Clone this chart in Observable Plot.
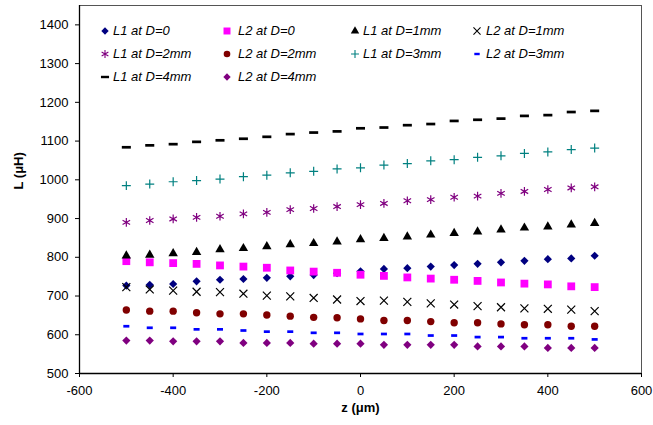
<!DOCTYPE html>
<html>
<head>
<meta charset="utf-8">
<script src="https://cdn.jsdelivr.net/npm/d3@7"></script>
<script src="https://cdn.jsdelivr.net/npm/@observablehq/plot@0.6"></script>
<style>
  html, body { margin: 0; padding: 0; background: #fff; }
  #wrap { position: relative; width: 653px; height: 425px; font-family: "Liberation Sans", Arial, sans-serif; }
  .leg { position: absolute; font-size: 13px; font-style: italic; color: #000; white-space: nowrap; line-height: 14px; }
  .legsym { position: absolute; }
</style>
</head>
<body>
<div id="wrap"></div>
<script>
// ---- data ----
const Z = [-500, -450, -400, -350, -300, -250, -200, -150, -100, -50, 0, 50, 100, 150, 200, 250, 300, 350, 400, 450, 500];
const L1_D0 = [727, 729, 731, 738, 742, 744, 747, 751, 754, 759, 764, 770, 772, 776, 780, 783, 787, 791, 795, 797, 804];
const L2_D0 = [790, 787, 785, 783, 779, 776, 773, 766, 763, 760, 755, 752, 748, 745, 742, 739, 735, 732, 730, 725, 723];
const L1_D1 = [804, 806, 810, 813, 820, 823, 828, 833, 836, 840, 846, 849, 853, 858, 862, 866, 871, 876, 879, 884, 888];
const L2_D1 = [723, 717, 714, 711, 710, 706, 701, 699, 695, 691, 687, 688, 685, 681, 678, 674, 671, 668, 667, 665, 661];
const L1_D2 = [890, 895, 899, 903, 906, 912, 916, 923, 926, 931, 936, 939, 946, 949, 955, 958, 965, 970, 975, 979, 982];
const L2_D2 = [664, 661, 661, 657, 654, 654, 651, 648, 645, 644, 641, 637, 637, 634, 631, 631, 628, 626, 626, 622, 622];
const L1_D3 = [985, 989, 995, 998, 1002, 1008, 1012, 1018, 1022, 1028, 1031, 1038, 1042, 1049, 1052, 1058, 1062, 1068, 1072, 1078, 1082];
const L2_D3 = [622, 618, 618, 614, 614, 611, 608, 608, 605, 605, 602, 602, 602, 598, 598, 594, 594, 591, 591, 591, 588];
const L1_D4 = [1084, 1089, 1092, 1098, 1102, 1106, 1111, 1118, 1122, 1125, 1133, 1135, 1141, 1144, 1152, 1155, 1158, 1165, 1167, 1175, 1178];
const L2_D4 = [585, 585, 583, 583, 583, 579, 579, 579, 577, 577, 577, 574, 574, 574, 574, 570, 570, 570, 566, 566, 566];
const seriesNames = ["L1 at D=0", "L2 at D=0", "L1 at D=1mm", "L2 at D=1mm", "L1 at D=2mm", "L2 at D=2mm", "L1 at D=3mm", "L2 at D=3mm", "L1 at D=4mm", "L2 at D=4mm"];
const seriesValues = [L1_D0, L2_D0, L1_D1, L2_D1, L1_D2, L2_D2, L1_D3, L2_D3, L1_D4, L2_D4];
const xTicks = [-600, -400, -200, 0, 200, 400, 600];
const yTicks = [500, 600, 700, 800, 900, 1000, 1100, 1200, 1300, 1400];
const xLabel = "z (μm)";
const yLabel = "L (μH)";

// ---- symbols ----
function dash(ratio) {
  return { draw(ctx, size) {
    const w = Math.sqrt(size), h = w * ratio;
    ctx.moveTo(-w / 2, -h / 2); ctx.lineTo(w / 2, -h / 2); ctx.lineTo(w / 2, h / 2); ctx.lineTo(-w / 2, h / 2); ctx.closePath();
  }};
}
const styles = [
  { symbol: d3.symbolDiamond2, r: 3.7, fill: "#000080" },
  { symbol: d3.symbolSquare, r: 4.4, fill: "#FF00FF" },
  { symbol: d3.symbolTriangle, r: 3.5, fill: "#000000" },
  { symbol: d3.symbolTimes, r: 3.7, stroke: "#000000" },
  { symbol: d3.symbolAsterisk, r: 4.1, stroke: "#800080" },
  { symbol: d3.symbolCircle, r: 3.7, fill: "#800000" },
  { symbol: d3.symbolPlus, r: 3.0, stroke: "#008080" },
  { symbol: dash(0.45), r: 3.4, fill: "#0000FF" },
  { symbol: dash(0.3), r: 5.1, fill: "#000000" },
  { symbol: d3.symbolDiamond2, r: 3.7, fill: "#800080" }
];

const dotMarks = seriesValues.map((vals, k) => {
  const s = styles[k];
  const rows = Z.map((z, i) => ({ z, L: vals[i] }));
  return Plot.dot(rows, {
    x: "z", y: "L", symbol: s.symbol, r: s.r,
    fill: s.fill || "none", stroke: s.stroke || "none", strokeWidth: 1.2
  });
});

const xDomain = [-600, 600];
const yDomain = [500, 1450];
const fmt = d => (d < 0 ? "-" + Math.abs(d) : String(d));

const chart = Plot.plot({
  width: 653, height: 425,
  marginLeft: 79, marginRight: 12, marginTop: 5, marginBottom: 52,
  style: { fontFamily: "Liberation Sans, Arial, sans-serif", fontSize: "13px", color: "#000", background: "#fff" },
  x: { domain: xDomain, label: null },
  y: { domain: yDomain, label: null },
  marks: [
    Plot.frame({ stroke: "#555" }),
    Plot.axisX({ ticks: xTicks, tickFormat: fmt, tickSize: 4, tickPadding: 8, label: null, fontSize: 13 }),
    Plot.axisY({ ticks: yTicks, tickFormat: fmt, tickSize: 4, tickPadding: 7, label: null, fontSize: 13 }),
    Plot.ruleX([xDomain[0]], { stroke: "#000", strokeWidth: 1.3 }),
    Plot.ruleY([yDomain[0]], { stroke: "#000", strokeWidth: 1.3 }),
    ...dotMarks,
    Plot.text([xLabel], { frameAnchor: "bottom", dy: 38, fontWeight: "bold", fontSize: 13 }),
    Plot.text([yLabel], { frameAnchor: "left", dx: -61, rotate: -90, fontWeight: "bold", fontSize: 13 })
  ]
});

const wrap = document.getElementById("wrap");
wrap.appendChild(chart);

// ---- legend (HTML overlay inside plot area) ----
const legMarkerX = [105, 227, 355, 477];
const legTextX = [113, 238, 363, 486];
const legRowY = [31, 53.5, 76.5];
seriesNames.forEach((name, k) => {
  const col = k % 4, row = Math.floor(k / 4);
  const s = styles[k];
  const cx = legMarkerX[col], cy = legRowY[row];
  const svg = d3.create("svg").attr("class", "legsym").attr("width", 14).attr("height", 14)
    .style("left", (cx - 7) + "px").style("top", (cy - 7) + "px");
  svg.append("path")
    .attr("transform", "translate(7,7)")
    .attr("d", d3.symbol(s.symbol, s.r * s.r * Math.PI * 0.8)())
    .attr("fill", s.fill || "none").attr("stroke", s.stroke || "none").attr("stroke-width", 1.1);
  wrap.appendChild(svg.node());
  const t = document.createElement("div");
  t.className = "leg";
  t.textContent = name;
  t.style.left = legTextX[col] + "px";
  t.style.top = (cy - 7) + "px";
  wrap.appendChild(t);
});
</script>
</body>
</html>
